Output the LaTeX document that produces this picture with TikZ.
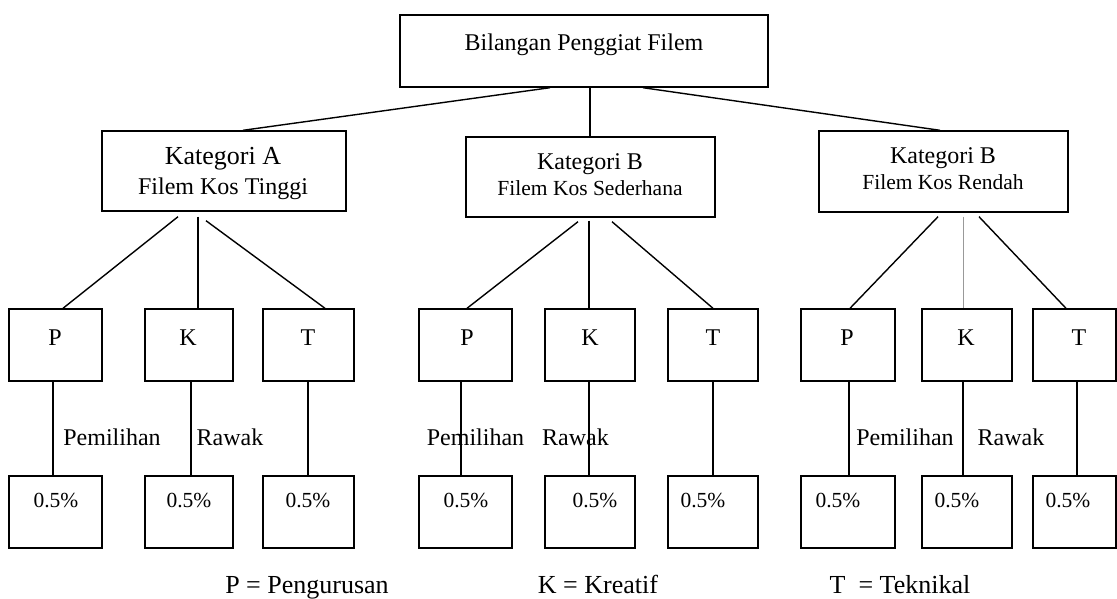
\documentclass[tikz,border=0pt]{standalone}
\usepackage{fontspec}
\setmainfont{Liberation Serif}
\usetikzlibrary{calc}
\begin{document}
\begin{tikzpicture}[x=1pt,y=-1pt,
  box/.style={draw, line width=1.4pt, inner sep=0pt},
  pbox/.style={box, minimum height=72pt},
  conn/.style={line width=1.4pt},
  vline/.style={line width=1.1pt},
  greyline/.style={line width=0.8pt, draw=black!40},
  txt/.style={anchor=base, inner sep=0pt, font=\fontsize{24}{28}\selectfont},
  stxt/.style={anchor=base, inner sep=0pt, font=\fontsize{21.5}{26}\selectfont},
  btxt/.style={anchor=base, inner sep=0pt, font=\fontsize{26}{30}\selectfont}]
\useasboundingbox (0,0) rectangle (1117,598);

% top
\node[box, minimum width=368pt, minimum height=72pt] (top) at (584,51) {};
\node[txt] (toplbl) at (584,50) {Bilangan Penggiat Filem};

% categories
\node[box, minimum width=244pt, minimum height=80pt] (catA) at (224,171) {};
\node[btxt] (catAa) at (223,164) {Kategori A};
\node[txt] (catAb) at (223,194) {Filem Kos Tinggi};

\node[box, minimum width=249pt, minimum height=80pt] (catB) at (590.5,177) {};
\node[txt] (catBa) at (590,169) {Kategori B};
\node[stxt] (catBb) at (590,195) {Filem Kos Sederhana};

\node[box, minimum width=249pt, minimum height=81pt] (catC) at (943.5,171.5) {};
\node[txt] (catCa) at (943,163) {Kategori B};
\node[stxt] (catCb) at (943,189) {Filem Kos Rendah};

\draw[conn] ($(top.south)+(-34,0)$) -- ($(catA.north)+(19,0)$);
\draw[conn] ($(top.south)+(6,0)$) -- ($(catB.north)+(-0.5,0)$);
\draw[conn] ($(top.south)+(59,0)$) -- ($(catC.north)+(-3.5,0)$);

% group A
\node[pbox, minimum width=93pt] (aP) at (55.5,345) {};
\node[pbox, minimum width=88pt] (aK) at (189,345) {};
\node[pbox, minimum width=91pt] (aT) at (308.5,345) {};
\node[pbox, minimum width=93pt] (aPv) at (55.5,512) {};
\node[pbox, minimum width=88pt] (aKv) at (189,512) {};
\node[pbox, minimum width=91pt] (aTv) at (308.5,512) {};
\node[txt] at (55,345) {P};
\node[txt] at (188,345) {K};
\node[txt] at (308,345) {T};
\node[stxt] at (56,507) {0.5\%};
\node[stxt] at (189,507) {0.5\%};
\node[stxt] at (308,507) {0.5\%};
\draw[conn] ($(catA.south)+(-46,5)$) -- ($(aP.north)+(7.5,0)$);
\draw[conn] ($(catA.south)+(-26,5)$) -- ($(aK.north)+(9,0)$);
\draw[conn] ($(catA.south)+(-18,9)$) -- ($(aT.north)+(16.5,0)$);
\draw[vline] ($(aP.south)+(-2.5,0)$) -- ($(aPv.north)+(-2.5,0)$);
\draw[vline] ($(aK.south)+(2,0)$) -- ($(aKv.north)+(2,0)$);
\draw[vline] ($(aT.south)+(-0.5,0)$) -- ($(aTv.north)+(-0.5,0)$);
\node[txt] at (112,445) {Pemilihan};
\node[txt] at (230,445) {Rawak};

% group B
\node[pbox, minimum width=93pt] (bP) at (465.5,345) {};
\node[pbox, minimum width=90pt] (bK) at (590,345) {};
\node[pbox, minimum width=90pt] (bT) at (713,345) {};
\node[pbox, minimum width=93pt] (bPv) at (465.5,512) {};
\node[pbox, minimum width=90pt] (bKv) at (590,512) {};
\node[pbox, minimum width=90pt] (bTv) at (713,512) {};
\node[txt] at (467,345) {P};
\node[txt] at (590,345) {K};
\node[txt] at (713,345) {T};
\node[stxt] at (466,507) {0.5\%};
\node[stxt] at (595,507) {0.5\%};
\node[stxt] at (703,507) {0.5\%};
\draw[conn] ($(catB.south)+(-12.5,4)$) -- ($(bP.north)+(1.5,0)$);
\draw[conn] ($(catB.south)+(-1.5,3)$) -- ($(bK.north)+(-1,0)$);
\draw[conn] ($(catB.south)+(21.5,4)$) -- ($(bT.north)+(0,0)$);
\draw[vline] ($(bP.south)+(-4.5,0)$) -- ($(bPv.north)+(-4.5,0)$);
\draw[vline] ($(bK.south)+(-1,0)$) -- ($(bKv.north)+(-1,0)$);
\draw[vline] ($(bT.south)+(0,0)$) -- ($(bTv.north)+(0,0)$);
\node[txt] at (475.5,445) {Pemilihan};
\node[txt] at (575.5,445) {Rawak};

% group C
\node[pbox, minimum width=94pt] (cP) at (848,345) {};
\node[pbox, minimum width=90pt] (cK) at (967,345) {};
\node[pbox, minimum width=83pt] (cT) at (1074.5,345) {};
\node[pbox, minimum width=94pt] (cPv) at (848,512) {};
\node[pbox, minimum width=90pt] (cKv) at (967,512) {};
\node[pbox, minimum width=83pt] (cTv) at (1074.5,512) {};
\node[txt] at (847,345) {P};
\node[txt] at (966,345) {K};
\node[txt] at (1079,345) {T};
\node[stxt] at (838,507) {0.5\%};
\node[stxt] at (957,507) {0.5\%};
\node[stxt] at (1068,507) {0.5\%};
\draw[conn] ($(catC.south)+(-5.5,4)$) -- ($(cP.north)+(2,0)$);
\draw[greyline] ($(catC.south)+(19.5,4)$) -- ($(cK.north)+(-4,0)$);
\draw[conn] ($(catC.south)+(35.5,4)$) -- ($(cT.north)+(-8.5,0)$);
\draw[vline] ($(cP.south)+(1,0)$) -- ($(cPv.north)+(1,0)$);
\draw[vline] ($(cK.south)+(-4,0)$) -- ($(cKv.north)+(-4,0)$);
\draw[vline] ($(cT.south)+(2.5,0)$) -- ($(cTv.north)+(2.5,0)$);
\node[txt] at (905,445) {Pemilihan};
\node[txt] at (1011,445) {Rawak};

% legend
\node[btxt] (legP) at (307,593) {P = Pengurusan};
\node[btxt] (legK) at (598,593) {K = Kreatif};
\node[btxt] (legT) at (900,593) {T\ \ = Teknikal};
\end{tikzpicture}
\end{document}
